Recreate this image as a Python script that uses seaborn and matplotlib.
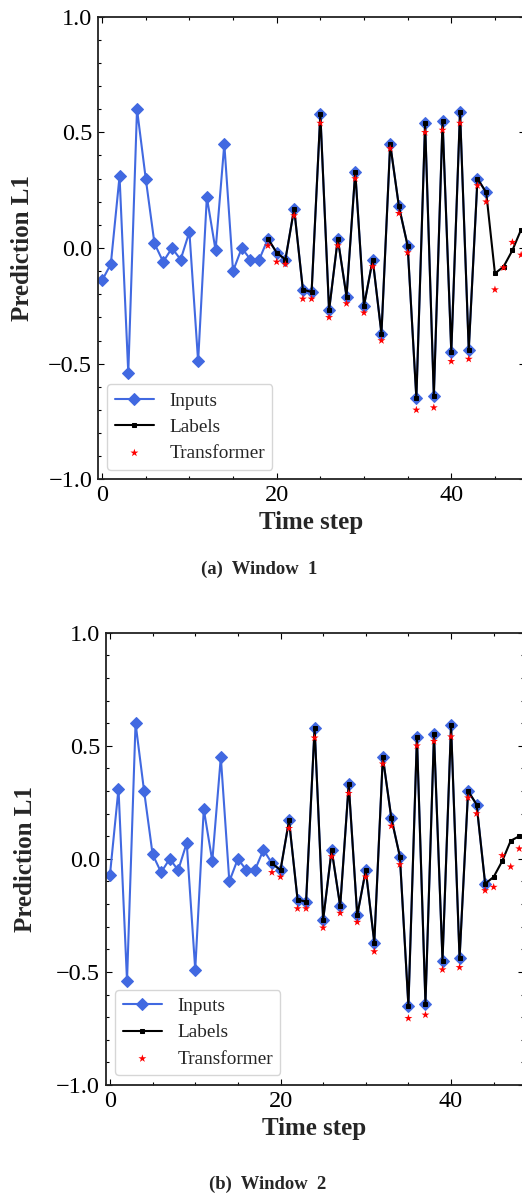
import numpy as np
import pandas as pd
import matplotlib
matplotlib.use("Agg")
import matplotlib.pyplot as plt
from matplotlib.ticker import MultipleLocator
import seaborn as sns

# Normalised L1 signal, one value per time step
signal = [
    -0.14, -0.07, 0.31, -0.54, 0.60, 0.30, 0.02, -0.06, 0.00, -0.05,
    0.07, -0.49, 0.22, -0.01, 0.45, -0.10, 0.00, -0.05, -0.05, 0.04,
    -0.02, -0.05, 0.17, -0.18, -0.19, 0.58, -0.27, 0.04, -0.21, 0.33,
    -0.25, -0.05, -0.37, 0.45, 0.18, 0.01, -0.65, 0.54, -0.64, 0.55,
    -0.45, 0.59, -0.44, 0.30, 0.24, -0.11, -0.08, -0.01, 0.08, 0.10,
]

# Transformer predictions over the label span of each window (steps 19..48)
pred_window1 = [
    0.01, -0.06, -0.07, 0.14, -0.22, -0.22, 0.54, -0.30, 0.01, -0.24,
    0.30, -0.28, -0.08, -0.40, 0.43, 0.15, -0.02, -0.70, 0.50, -0.69,
    0.51, -0.49, 0.54, -0.48, 0.27, 0.20, -0.18, -0.085, 0.025, -0.03,
]
pred_window2 = [
    -0.06, -0.08, 0.135, -0.22, -0.22, 0.535, -0.305, 0.01, -0.24, 0.29,
    -0.28, -0.08, -0.41, 0.42, 0.145, -0.025, -0.705, 0.50, -0.69, 0.52,
    -0.49, 0.54, -0.48, 0.27, 0.20, -0.14, -0.125, 0.015, -0.035, 0.045,
]

input_len = 45      # steps 0..44
label_start = 19    # labels cover steps 19..48
label_len = 30
window_offsets = [0, 1]
window_preds = [pred_window1, pred_window2]
captions = ["(a)  Window  1", "(b)  Window  2"]

sns.set_style("ticks")
plt.rcParams["font.family"] = ["Liberation Serif", "DejaVu Serif"]
plt.rcParams["mathtext.fontset"] = "stix"
plt.rcParams["axes.unicode_minus"] = True

fig = plt.figure(figsize=(5.22, 12.01), dpi=100)
axes = [
    fig.add_axes([0.1872, 0.6009, 0.8195, 0.3852]),
    fig.add_axes([0.2025, 0.0966, 0.8004, 0.3766]),
]
caption_pos = [(0.497, 0.519), (0.512, 0.0065)]
ylabel_pads = [10, 14]

for ax, off, preds, cap, cpos, ypad in zip(axes, window_offsets, window_preds,
                                           captions, caption_pos, ylabel_pads):
    inputs = pd.DataFrame({
        "step": np.arange(input_len),
        "value": signal[off:off + input_len],
    })
    labels = pd.DataFrame({
        "step": np.arange(label_start, label_start + label_len),
        "value": signal[off + label_start:off + label_start + label_len],
    })
    predictions = pd.DataFrame({
        "step": np.arange(label_start, label_start + label_len),
        "value": preds,
    })

    sns.lineplot(data=inputs, x="step", y="value", ax=ax, color="royalblue",
                 marker="D", markersize=6, markeredgecolor="royalblue",
                 linewidth=1.5, label="Inputs", estimator=None, sort=False, zorder=2)
    sns.lineplot(data=labels, x="step", y="value", ax=ax, color="black",
                 marker="s", markersize=3, markeredgecolor="black",
                 linewidth=1.5, label="Labels", estimator=None, sort=False, zorder=3)
    sns.scatterplot(data=predictions, x="step", y="value", ax=ax, color="red",
                    marker="*", s=36, edgecolor="none", label="Transformer", zorder=4)

    ax.set_xlim(-0.5, 48.5)
    ax.set_ylim(-1.0, 1.0)
    ax.xaxis.set_major_locator(MultipleLocator(20))
    ax.xaxis.set_minor_locator(MultipleLocator(5))
    ax.yaxis.set_major_locator(MultipleLocator(0.5))
    ax.yaxis.set_minor_locator(MultipleLocator(0.1))
    ax.tick_params(which="both", direction="in", top=True, right=True,
                   colors="black", labelsize=17.5, pad=4)
    ax.tick_params(which="major", length=4.3, width=0.8)
    ax.tick_params(which="minor", length=2.4, width=0.8)
    for sp in ax.spines.values():
        sp.set_linewidth(1.3)
        sp.set_color("#222222")

    ax.set_xlabel("Time step", fontsize=18, fontweight="bold", labelpad=4)
    ax.set_ylabel("Prediction L1", fontsize=18, fontweight="bold", labelpad=ypad)

    ax.legend(loc="lower left", fontsize=13.9, frameon=True, fancybox=True,
              edgecolor="0.8", framealpha=0.8, borderaxespad=0.5,
              labelspacing=0.45)

    fig.text(cpos[0], cpos[1], cap, ha="center", va="bottom",
             fontsize=13.4, fontweight="bold")

fig.savefig("out.png", dpi=100)
